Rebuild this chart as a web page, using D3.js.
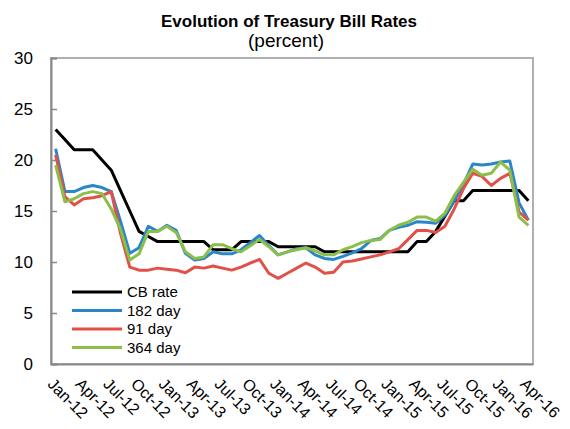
<!DOCTYPE html>
<html><head><meta charset="utf-8">
<script src="https://cdn.jsdelivr.net/npm/d3@7"></script>
<style>
html,body{margin:0;padding:0;background:#fff;}
svg{display:block;font-family:"Liberation Sans",Arial,sans-serif;}
</style></head>
<body>
<svg id="chart" width="570" height="429"></svg>
<script>
const months = ["Jan-12","Feb-12","Mar-12","Apr-12","May-12","Jun-12","Jul-12","Aug-12","Sep-12","Oct-12","Nov-12","Dec-12",
"Jan-13","Feb-13","Mar-13","Apr-13","May-13","Jun-13","Jul-13","Aug-13","Sep-13","Oct-13","Nov-13","Dec-13",
"Jan-14","Feb-14","Mar-14","Apr-14","May-14","Jun-14","Jul-14","Aug-14","Sep-14","Oct-14","Nov-14","Dec-14",
"Jan-15","Feb-15","Mar-15","Apr-15","May-15","Jun-15","Jul-15","Aug-15","Sep-15","Oct-15","Nov-15","Dec-15",
"Jan-16","Feb-16","Mar-16","Apr-16"];
const tickLabels = ["Jan-12","Apr-12","Jul-12","Oct-12","Jan-13","Apr-13","Jul-13","Oct-13","Jan-14","Apr-14","Jul-14","Oct-14","Jan-15","Apr-15","Jul-15","Oct-15","Jan-16","Apr-16"];
const yTicks = [0,5,10,15,20,25,30];

const cbRate = [23,22,21,21,21,20,19,17,15,13,12.5,12,12,12,12,12,12,11.2,11.2,11.2,12,12,12,12,11.5,11.5,11.5,11.5,11.5,11,11,11,11,11,11,11,11,11,11,12,12,13,14.5,16,16,17,17,17,17,17,17,16];
const day182 = [21.1,16.9,16.9,17.3,17.5,17.3,16.9,14.0,10.85,11.4,13.5,13.0,13.6,13.1,10.85,10.2,10.35,11.0,10.8,10.8,11.2,11.9,12.6,11.6,10.7,11.0,11.3,11.4,10.7,10.35,10.25,10.55,10.9,11.3,12.1,12.3,13.1,13.4,13.6,13.95,13.9,13.8,14.6,16.0,17.6,19.6,19.5,19.6,19.8,19.9,15.8,14.1];
const day91 = [20.5,16.4,15.6,16.2,16.3,16.5,16.9,12.8,9.5,9.2,9.2,9.4,9.3,9.2,8.95,9.5,9.4,9.6,9.4,9.2,9.5,9.9,10.25,8.9,8.4,8.9,9.4,9.9,9.5,8.9,9.0,10.0,10.1,10.3,10.5,10.7,11.0,11.3,12.2,13.1,13.1,12.9,13.5,15.2,17.2,18.7,18.4,17.5,18.2,18.7,14.9,14.1];
const day364 = [19.5,15.9,16.2,16.7,16.9,16.7,15.2,13.2,10.2,10.8,13.0,13.0,13.5,12.9,11.0,10.35,10.5,11.7,11.7,11.3,11.0,11.6,12.2,11.5,10.7,11.0,11.2,11.4,11.1,10.7,10.7,11.2,11.5,11.9,12.1,12.2,13.1,13.6,13.9,14.4,14.4,14.0,14.8,16.5,17.8,19.1,18.5,18.7,19.8,19.0,14.4,13.6];

const seriesNames = ["CB rate","182 day","91 day","364 day"];
const seriesColors = ["#000000","#2a86c8","#e2504a","#8cbf4a"];
const seriesData = [cbRate, day182, day91, day364];

const svg = d3.select("#chart");
const mLeft = 51, mRight = 533, mTop = 58, mBottom = 364;

const x = d3.scalePoint().domain(months).range([mLeft, mRight]).padding(0.5);
const y = d3.scaleLinear().domain([0, 30]).range([mBottom, mTop]);

// plot frame
svg.append("rect").attr("x", mLeft).attr("y", mTop).attr("width", mRight - mLeft).attr("height", mBottom - mTop)
  .attr("fill", "none").attr("stroke", "#b0b0b0").attr("stroke-width", 2);

// y axis
const yAxis = svg.append("g").attr("transform", `translate(${mLeft},0)`)
  .call(d3.axisRight(y).tickValues(yTicks).tickSize(6).tickFormat(""));
yAxis.select(".domain").attr("stroke", "#8a8a8a").attr("stroke-width", 2);
yAxis.selectAll(".tick line").attr("stroke", "#8a8a8a").attr("stroke-width", 1.5);

svg.append("g").selectAll("text").data(yTicks).join("text")
  .attr("x", 33).attr("y", d => y(d)).attr("dy", "0.35em")
  .attr("text-anchor", "end").attr("font-size", 17).attr("fill", "#000")
  .text(d => d);

// x axis line
const xAxis = svg.append("g").attr("transform", `translate(0,${mBottom})`)
  .call(d3.axisBottom(x).tickValues([]).tickSize(0).tickSizeOuter(0));
xAxis.select(".domain").attr("stroke", "#8a8a8a").attr("stroke-width", 2);

svg.append("g").selectAll("text").data(tickLabels).join("text")
  .attr("transform", d => `translate(${x(d) - 9},${mBottom + 21}) rotate(45)`)
  .attr("font-size", 16).attr("fill", "#000")
  .text(d => d);

// lines
const line = d3.line().x((d, i) => x(months[i])).y(d => y(d));
seriesData.forEach((s, k) => {
  svg.append("path").datum(s).attr("d", line)
    .attr("fill", "none").attr("stroke", seriesColors[k]).attr("stroke-width", 3)
    .attr("stroke-linejoin", "round");
});

// legend
const lg = svg.append("g");
seriesNames.forEach((n, k) => {
  const ly = 292 + k * 18.5;
  lg.append("line").attr("x1", 72).attr("x2", 122).attr("y1", ly).attr("y2", ly)
    .attr("stroke", seriesColors[k]).attr("stroke-width", 3);
  lg.append("text").attr("x", 127).attr("y", ly).attr("dy", "0.35em")
    .attr("font-size", 15).attr("fill", "#000").text(n);
});

// titles
svg.append("text").attr("x", 289).attr("y", 27).attr("text-anchor", "middle")
  .attr("font-size", 17).attr("font-weight", "bold").text("Evolution of Treasury Bill Rates");
svg.append("text").attr("x", 286).attr("y", 47).attr("text-anchor", "middle")
  .attr("font-size", 19).text("(percent)");
</script>
</body></html>
